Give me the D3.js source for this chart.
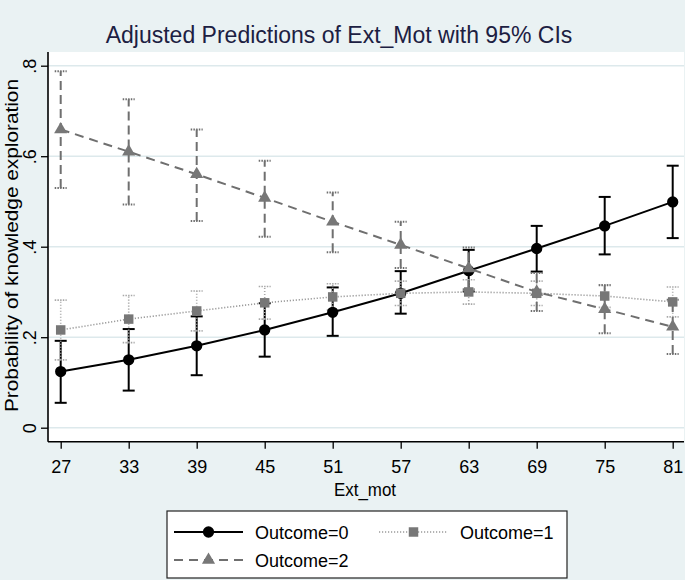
<!DOCTYPE html>
<html>
<head>
<meta charset="utf-8">
<script src="https://cdn.jsdelivr.net/npm/d3@7"></script>
<style>
  html, body { margin: 0; padding: 0; background: #eaf2f3; }
  svg { display: block; }
  text { font-family: "Liberation Sans", Arial, sans-serif; }
</style>
</head>
<body>
<svg id="chart" width="685" height="580"></svg>
<script>
const extMot = [27, 33, 39, 45, 51, 57, 63, 69, 75, 81];

const est0 = [0.124, 0.150, 0.181, 0.216, 0.255, 0.297, 0.347, 0.396, 0.446, 0.499];
const lo0  = [0.055, 0.082, 0.116, 0.157, 0.203, 0.252, 0.301, 0.345, 0.383, 0.419];
const hi0  = [0.192, 0.218, 0.246, 0.275, 0.310, 0.346, 0.393, 0.446, 0.510, 0.579];

const est1 = [0.216, 0.240, 0.258, 0.276, 0.289, 0.297, 0.300, 0.297, 0.291, 0.278];
const lo1  = [0.150, 0.188, 0.214, 0.240, 0.260, 0.270, 0.273, 0.270, 0.266, 0.245];
const hi1  = [0.282, 0.292, 0.302, 0.312, 0.318, 0.324, 0.327, 0.324, 0.316, 0.311];

const est2 = [0.659, 0.610, 0.560, 0.508, 0.455, 0.404, 0.352, 0.300, 0.262, 0.223];
const lo2  = [0.530, 0.493, 0.457, 0.422, 0.388, 0.353, 0.306, 0.258, 0.209, 0.163];
const hi2  = [0.788, 0.726, 0.659, 0.590, 0.520, 0.455, 0.398, 0.342, 0.315, 0.283];

const yTicks = [0, 0.2, 0.4, 0.6, 0.8];
const yTickLabels = ["0", ".2", ".4", ".6", ".8"];
const seriesNames = ["Outcome=0", "Outcome=1", "Outcome=2"];

const titleText = "Adjusted Predictions of Ext_Mot with 95% CIs";
const xTitle = "Ext_mot";
const yTitle = "Probability of knowledge exploration";

const svg = d3.select("#chart");
const W = 685, H = 580;
const plot = { left: 48, right: 684, top: 52, bottom: 441.7 };

const x = d3.scaleLinear().domain([27, 81]).range([60.7, 672.7]);
const y = d3.scaleLinear().domain([0, 0.8]).range([427.7, 65.7]);

svg.append("rect").attr("width", W).attr("height", H).attr("fill", "#eaf2f3");

// plot region
svg.append("rect")
  .attr("x", plot.left).attr("y", plot.top)
  .attr("width", plot.right - plot.left).attr("height", plot.bottom - plot.top)
  .attr("fill", "#ffffff");

// gridlines
svg.append("g").selectAll("line").data(yTicks).join("line")
  .attr("x1", plot.left).attr("x2", plot.right)
  .attr("y1", d => y(d)).attr("y2", d => y(d))
  .attr("stroke", "#dde9ec").attr("stroke-width", 1.6);

// axes
const yAxis = svg.append("g").attr("transform", `translate(${plot.left},0)`)
  .call(d3.axisLeft(y).tickValues(yTicks).tickSize(7).tickSizeOuter(0)
    .tickFormat((d, i) => yTickLabels[i]));
yAxis.select(".domain").remove();
yAxis.selectAll(".tick line").attr("stroke", "#000").attr("stroke-width", 1.3);
yAxis.selectAll(".tick text")
  .attr("font-size", 18).attr("fill", "#000")
  .attr("text-anchor", "middle")
  .attr("x", null).attr("dy", null)
  .attr("transform", "translate(-12,0) rotate(-90)");

const xAxis = svg.append("g").attr("transform", `translate(0,${plot.bottom})`)
  .call(d3.axisBottom(x).tickValues(extMot).tickSize(7).tickSizeOuter(0)
    .tickFormat(d3.format("d")));
xAxis.select(".domain").remove();
xAxis.selectAll(".tick line").attr("stroke", "#000").attr("stroke-width", 1.3);
xAxis.selectAll(".tick text")
  .attr("font-size", 18).attr("fill", "#000")
  .attr("y", null).attr("dy", null)
  .attr("transform", "translate(0,31)");

// axis lines
svg.append("line").attr("x1", plot.left).attr("x2", plot.left)
  .attr("y1", plot.top).attr("y2", plot.bottom)
  .attr("stroke", "#000").attr("stroke-width", 1.6);
svg.append("line").attr("x1", plot.left).attr("x2", plot.right)
  .attr("y1", plot.bottom).attr("y2", plot.bottom)
  .attr("stroke", "#000").attr("stroke-width", 1.6);

// series definitions
const gray = "#6f6f6f";
const series = [
  { est: est0, lo: lo0, hi: hi0, color: "#000", ciColor: "#000", width: 2, dash: null, ciDash: null,
    symbol: d3.symbolCircle, size: 100 },
  { est: est1, lo: lo1, hi: hi1, color: "#9a9a9a", ciColor: "#a8a8a8", width: 1.6, dash: "1.2,1.8", ciDash: "1.2,1.8",
    symbol: d3.symbolSquare, size: 90, fill: "#777" },
  { est: est2, lo: lo2, hi: hi2, color: gray, ciColor: gray, width: 2, dash: "9,6", ciDash: "9,5",
    symbol: d3.symbolTriangle, size: 75, fill: "#777" }
];

const capW = 6;
// confidence intervals
series.forEach(s => {
  const g = svg.append("g");
  const rows = extMot.map((v, i) => ({ v, lo: s.lo[i], hi: s.hi[i] }));
  g.selectAll("line.ci").data(rows).join("line")
    .attr("x1", d => x(d.v)).attr("x2", d => x(d.v))
    .attr("y1", d => y(d.lo)).attr("y2", d => y(d.hi))
    .attr("stroke", s.ciColor).attr("stroke-width", s.width)
    .attr("stroke-dasharray", s.ciDash);
  ["lo", "hi"].forEach(k => {
    g.selectAll("line.cap" + k).data(rows).join("line")
      .attr("x1", d => x(d.v) - capW).attr("x2", d => x(d.v) + capW)
      .attr("y1", d => y(d[k])).attr("y2", d => y(d[k]))
      .attr("stroke", s.ciColor).attr("stroke-width", s.width)
      .attr("stroke-dasharray", s.ciDash ? "1.5,1.2" : null);
  });
});

// lines and markers
series.forEach(s => {
  const pts = extMot.map((v, i) => [x(v), y(s.est[i])]);
  svg.append("path").attr("d", d3.line()(pts))
    .attr("fill", "none").attr("stroke", s.color).attr("stroke-width", s.width)
    .attr("stroke-dasharray", s.dash);
  svg.append("g").selectAll("path").data(pts).join("path")
    .attr("transform", d => `translate(${d[0]},${d[1]})`)
    .attr("d", d3.symbol().type(s.symbol).size(s.size))
    .attr("fill", s.fill || s.color);
});

// title
svg.append("text").attr("x", 339).attr("y", 43)
  .attr("text-anchor", "middle").attr("font-size", 23).attr("fill", "#1c2042")
  .text(titleText);

// axis titles
svg.append("text").attr("x", 365).attr("y", 496)
  .attr("text-anchor", "middle").attr("font-size", 19).attr("fill", "#000")
  .attr("textLength", 62).attr("lengthAdjust", "spacingAndGlyphs")
  .text(xTitle);
svg.append("text")
  .attr("transform", "translate(18,245.5) rotate(-90)")
  .attr("text-anchor", "middle").attr("font-size", 19).attr("fill", "#000")
  .attr("textLength", 333).attr("lengthAdjust", "spacingAndGlyphs")
  .text(yTitle);

// legend
const leg = svg.append("g");
leg.append("rect").attr("x", 167).attr("y", 511).attr("width", 400).attr("height", 67)
  .attr("fill", "#fff").attr("stroke", "#222").attr("stroke-width", 1.2);
const legItems = [
  { s: series[0], x0: 174, y0: 532, tx: 255 },
  { s: series[1], x0: 379, y0: 532, tx: 460 },
  { s: series[2], x0: 174, y0: 560, tx: 255 }
];
legItems.forEach((it, i) => {
  leg.append("line").attr("x1", it.x0).attr("x2", it.x0 + 69)
    .attr("y1", it.y0).attr("y2", it.y0)
    .attr("stroke", it.s.color).attr("stroke-width", it.s.width)
    .attr("stroke-dasharray", it.s.dash);
  leg.append("path").attr("transform", `translate(${it.x0 + 34.5},${it.y0})`)
    .attr("d", d3.symbol().type(it.s.symbol).size(it.s.size))
    .attr("fill", it.s.fill || it.s.color);
  leg.append("text").attr("x", it.tx).attr("y", it.y0 + 6.5)
    .attr("font-size", 18).attr("fill", "#000").text(seriesNames[i]);
});
</script>
</body>
</html>
